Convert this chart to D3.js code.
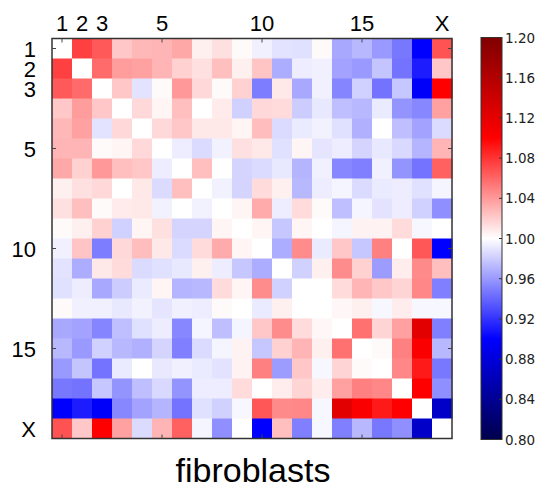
<!DOCTYPE html>
<html>
<head>
<meta charset="utf-8">
<script src="https://cdn.jsdelivr.net/npm/d3@7"></script>
<style>
  html, body { margin: 0; padding: 0; background: #fff; }
  svg { display: block; }
</style>
</head>
<body>
<svg id="chart" width="539" height="493"></svg>
<script>
// Chromosome names along both axes
const chromosomes = ["1","2","3","4","5","6","7","8","9","10","11","12","13","14","15","16","17","18","19","X"];

// Interaction ratio matrix, one row per chromosome
const row1  = [1.000,1.075,1.065,1.022,1.028,1.029,1.034,1.006,1.012,1.002,0.994,0.989,0.988,1.002,0.966,0.972,0.960,0.947,0.900,1.068];
const row2  = [1.075,1.000,1.058,1.039,1.037,1.029,1.018,1.012,1.025,1.006,1.023,0.968,0.993,0.994,0.964,0.960,0.977,0.945,0.911,1.022];
const row3  = [1.065,1.058,1.000,1.022,0.989,1.002,1.040,1.015,1.002,1.018,0.949,1.009,0.966,0.994,0.952,0.982,0.945,0.978,0.897,1.100];
const row4  = [1.022,1.039,1.022,1.000,1.015,1.004,1.025,1.000,1.008,0.982,1.015,1.014,0.980,0.991,0.975,0.972,0.992,0.958,0.953,1.037];
const row5  = [1.028,1.037,0.989,1.015,1.000,1.015,1.022,1.009,1.009,1.004,1.026,0.986,0.992,0.995,0.988,0.969,1.000,0.975,0.964,0.986];
const row6  = [1.029,1.029,1.002,1.004,1.015,1.000,0.993,0.986,0.995,1.012,1.009,0.988,1.004,0.990,0.993,0.983,0.991,0.985,0.971,1.029];
const row7  = [1.034,1.018,1.040,1.025,1.022,0.993,1.000,1.025,1.000,0.983,0.986,0.991,0.971,0.994,0.953,0.950,0.994,0.958,0.945,1.062];
const row8  = [1.006,1.012,1.015,1.000,1.009,0.986,1.025,1.000,0.995,0.983,1.014,1.006,0.972,0.993,0.996,0.986,0.992,0.993,0.988,0.996];
const row9  = [1.012,1.025,1.002,1.008,1.009,0.995,1.000,0.995,1.000,1.004,1.033,0.993,1.014,1.002,0.975,0.996,0.989,0.993,0.982,0.956];
const row10 = [1.002,1.006,1.018,0.982,1.004,1.012,0.983,0.983,1.004,1.000,1.004,0.978,1.004,1.000,0.996,1.005,1.005,1.014,0.997,1.000];
const row11 = [0.994,1.023,0.949,1.015,1.026,1.009,0.986,1.014,1.033,1.004,1.000,0.968,1.045,0.992,1.022,0.978,1.050,1.000,1.066,0.900];
const row12 = [0.989,0.968,1.009,1.014,0.986,0.988,0.991,1.006,0.993,0.978,0.968,1.000,0.982,1.006,1.045,1.018,0.961,1.007,1.046,1.025];
const row13 = [0.988,0.993,0.966,0.980,0.992,1.004,0.971,0.972,1.014,1.004,1.045,0.982,1.000,1.000,1.014,1.029,1.022,1.017,1.047,0.950];
const row14 = [1.002,0.994,0.994,0.991,0.995,0.990,0.994,0.993,1.002,1.000,0.992,1.006,1.000,1.000,1.003,1.006,0.997,1.007,0.997,0.997];
const row15 = [0.966,0.964,0.952,0.975,0.988,0.993,0.953,0.996,0.975,0.996,1.022,1.045,1.014,1.003,1.000,1.056,1.017,1.037,1.123,0.950];
const row16 = [0.972,0.960,0.982,0.972,0.969,0.983,0.950,0.986,0.996,1.005,0.978,1.018,1.029,1.006,1.056,1.000,1.002,1.050,1.103,0.972];
const row17 = [0.960,0.977,0.945,0.992,1.000,0.991,0.994,0.992,0.989,1.005,1.050,0.961,1.022,0.997,1.017,1.002,1.000,1.047,1.090,0.947];
const row18 = [0.947,0.945,0.978,0.958,0.975,0.985,0.958,0.993,0.993,1.014,1.000,1.007,1.017,1.007,1.037,1.050,1.047,1.000,1.101,0.956];
const row19 = [0.900,0.911,0.897,0.953,0.964,0.971,0.945,0.988,0.982,0.997,1.066,1.046,1.047,0.997,1.123,1.103,1.090,1.101,1.000,0.870];
const rowX  = [1.068,1.022,1.100,1.037,0.986,1.029,1.062,0.996,0.956,1.000,0.900,1.025,0.950,0.997,0.950,0.972,0.947,0.956,0.870,1.000];
const matrix = [row1,row2,row3,row4,row5,row6,row7,row8,row9,row10,row11,row12,row13,row14,row15,row16,row17,row18,row19,rowX];

// Axis labels and the cell index each one sits on
const axisLabels = ["1","2","3","5","10","15","X"];
const axisLabelIndex = [0,1,2,5,10,15,19];
const tickIndex = [0,5,10,15];

// Colour bar
const colorDomain = [0.80, 1.20];
const colorTicks = [0.80,0.84,0.88,0.92,0.96,1.00,1.04,1.08,1.12,1.16,1.20];
const title = "fibroblasts";

const svg = d3.select("#chart");

// Diverging blue-white-red colour map (seismic)
const color = d3.scaleLinear()
  .domain([0.80, 0.90, 1.00, 1.10, 1.20])
  .range(["#00004c", "#0000ff", "#ffffff", "#ff0000", "#800000"])
  .interpolate(d3.interpolateRgb)
  .clamp(true);

const x = d3.scaleBand().domain(d3.range(20)).range([52, 452]);
const y = d3.scaleBand().domain(d3.range(20)).range([38.5, 438.5]);

const cells = [];
matrix.forEach((r, i) => r.forEach((v, j) => cells.push({i, j, v})));

svg.append("g")
  .selectAll("rect")
  .data(cells)
  .join("rect")
  .attr("x", d => x(d.j))
  .attr("y", d => y(d.i))
  .attr("width", x.bandwidth() + 0.5)
  .attr("height", y.bandwidth() + 0.5)
  .attr("fill", d => color(d.v));

// frame
svg.append("rect")
  .attr("x", 52).attr("y", 38.5)
  .attr("width", 400).attr("height", 400)
  .attr("fill", "none").attr("stroke", "#333").attr("stroke-width", 1.5);

// inward ticks on all four sides
const tl = 4;
const tg = svg.append("g").attr("stroke", "#444").attr("stroke-width", 1);
tickIndex.forEach(k => {
  const cx = x(k) + x.bandwidth() / 2;
  const cy = y(k) + y.bandwidth() / 2;
  tg.append("line").attr("x1", cx).attr("x2", cx).attr("y1", 38.5).attr("y2", 38.5 + tl);
  tg.append("line").attr("x1", cx).attr("x2", cx).attr("y1", 438.5).attr("y2", 438.5 - tl);
  tg.append("line").attr("y1", cy).attr("y2", cy).attr("x1", 52).attr("x2", 52 + tl);
  tg.append("line").attr("y1", cy).attr("y2", cy).attr("x1", 452).attr("x2", 452 - tl);
});

// axis labels
const labFont = "'Liberation Sans', Arial, sans-serif";
svg.append("g")
  .selectAll("text")
  .data(axisLabels)
  .join("text")
  .attr("x", (d, k) => x(axisLabelIndex[k]) + x.bandwidth() / 2)
  .attr("y", 31)
  .attr("text-anchor", "middle")
  .attr("font-family", labFont)
  .attr("font-size", 22)
  .attr("fill", "#000")
  .text(d => d);

svg.append("g")
  .selectAll("text")
  .data(axisLabels)
  .join("text")
  .attr("x", 36)
  .attr("y", (d, k) => y(axisLabelIndex[k]) + y.bandwidth() / 2 + 8)
  .attr("text-anchor", "end")
  .attr("font-family", labFont)
  .attr("font-size", 22)
  .attr("fill", "#000")
  .text(d => d);

// title
svg.append("text")
  .attr("x", 253)
  .attr("y", 482)
  .attr("text-anchor", "middle")
  .attr("font-family", labFont)
  .attr("font-size", 34)
  .attr("fill", "#000")
  .text(title);

// colour bar
const cb = { x: 481, w: 21, top: 37.5, bottom: 439.5 };
const cbScale = d3.scaleLinear().domain(colorDomain).range([cb.bottom, cb.top]);
const grad = svg.append("defs").append("linearGradient")
  .attr("id", "cbgrad").attr("x1", 0).attr("x2", 0).attr("y1", 1).attr("y2", 0);
d3.range(0, 41).forEach(s => {
  const v = colorDomain[0] + (colorDomain[1] - colorDomain[0]) * s / 40;
  grad.append("stop").attr("offset", (s / 40 * 100) + "%").attr("stop-color", color(v));
});
svg.append("rect")
  .attr("x", cb.x).attr("y", cb.top)
  .attr("width", cb.w).attr("height", cb.bottom - cb.top)
  .attr("fill", "url(#cbgrad)")
  .attr("stroke", "#333").attr("stroke-width", 1);

const cbAxis = svg.append("g");
cbAxis.selectAll("line")
  .data(colorTicks)
  .join("line")
  .attr("x1", cb.x + cb.w).attr("x2", cb.x + cb.w - 3)
  .attr("y1", d => cbScale(d)).attr("y2", d => cbScale(d))
  .attr("stroke", "#333").attr("stroke-width", 1);
cbAxis.selectAll("text")
  .data(colorTicks)
  .join("text")
  .attr("x", cb.x + cb.w + 3)
  .attr("y", d => cbScale(d) + 5)
  .attr("font-family", "'DejaVu Sans', sans-serif")
  .attr("font-size", 13.5)
  .attr("fill", "#222")
  .text(d => d3.format(".2f")(d));
</script>
</body>
</html>
